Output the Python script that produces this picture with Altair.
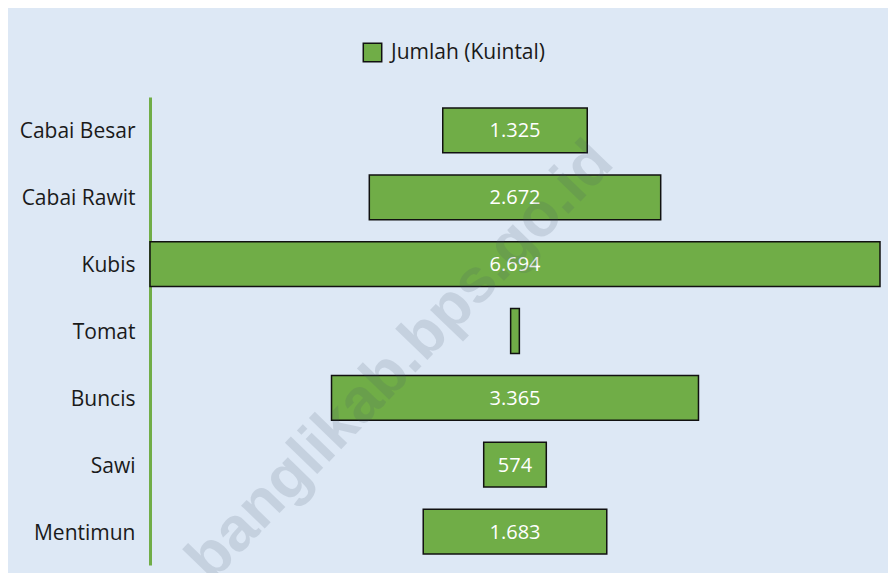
import altair as alt
import pandas as pd

categories = ["Cabai Besar", "Cabai Rawit", "Kubis", "Tomat", "Buncis", "Sawi", "Mentimun"]
values = [1325, 2672, 6694, 80, 3365, 574, 1683]
series_name = "Jumlah (Kuintal)"
watermark = "banglikab.bps.go.id"

df = pd.DataFrame({"kategori": categories, "nilai": values})
df["lo"] = -df["nilai"] / 2
df["hi"] = df["nilai"] / 2
df["mid"] = 0
df["label"] = [f"{v:,}".replace(",", ".") if v >= 300 else "" for v in values]
df["seri"] = series_name

half = max(values) / 2
xs = alt.Scale(domain=[-half, half], nice=False, zero=False)
ys = alt.Y(
    "kategori:N",
    sort=categories,
    scale=alt.Scale(paddingInner=0.33, paddingOuter=0.165),
    axis=alt.Axis(
        title=None,
        ticks=False,
        domainColor="#70ad47",
        domainWidth=3,
        labelFontSize=21,
        labelColor="#1a1a1a",
        labelPadding=15,
        labelFont="Open Sans",
        labelBaseline="middle",
        labelOffset=2,
        grid=False,
    ),
)

base = alt.Chart(df)

bars = base.mark_bar(stroke="#111111", strokeWidth=1.5).encode(
    x=alt.X("lo:Q", scale=xs, axis=None),
    x2="hi:Q",
    y=ys,
    color=alt.Color(
        "seri:N",
        scale=alt.Scale(domain=[series_name], range=["#70ad47"]),
        legend=alt.Legend(
            title=None,
            orient="none",
            legendX=212,
            legendY=-55,
            symbolType="square",
            symbolSize=340,
            symbolStrokeColor="#111111",
            symbolStrokeWidth=1.5,
            labelFontSize=21,
            labelFont="Open Sans",
            labelColor="#1a1a1a",
            labelOffset=8,
        ),
    ),
)

labels = base.mark_text(color="white", fontSize=20, font="Open Sans", dy=1).encode(
    x=alt.X("mid:Q", scale=xs, axis=None),
    y=alt.Y("kategori:N", sort=categories),
    text="label:N",
)

wm = alt.Chart(pd.DataFrame({"t": [watermark]})).mark_text(
    font="Liberation Sans",
    fontWeight="bold",
    fontSize=62,
    angle=314,
    color="#44546a",
    opacity=0.15,
    align="center",
    baseline="middle",
).encode(x=alt.value(250), y=alt.value(264), text="t:N")

chart = (
    alt.layer(bars, labels, wm)
    .properties(
        width=730,
        height=468,
        padding={"left": 142, "top": 89, "right": 8, "bottom": 8},
        autosize=alt.AutoSizeParams(type="none"),
        background="#dde8f5",
    )
    .configure_view(stroke=None)
)

chart.save("out.html", embed_options={"renderer": "svg", "actions": False})
